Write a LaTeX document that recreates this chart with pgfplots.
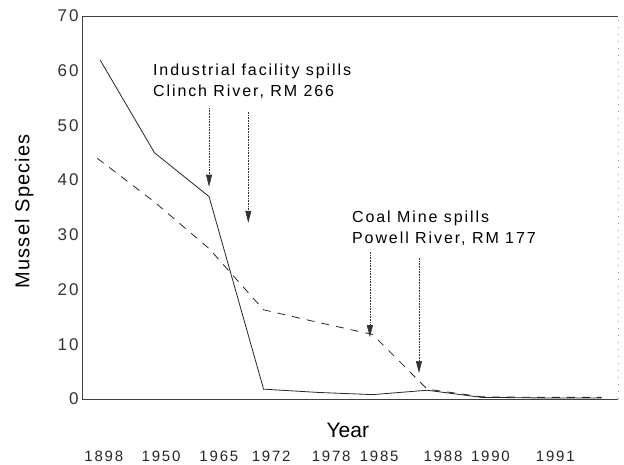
\documentclass[border=0pt]{standalone}
\usepackage{fontspec}
\setmainfont{Liberation Sans}
\newfontfamily\tickfont[LetterSpace=12]{Liberation Sans}
\newfontfamily\annfont[LetterSpace=12]{Liberation Sans}
\newfontfamily\labfont[LetterSpace=6]{Liberation Sans}
\usepackage{pgfplots}
\pgfplotsset{compat=1.18}
\usetikzlibrary{arrows.meta}
\begin{document}
\begin{tikzpicture}
\begin{axis}[
  at={(82bp,66bp)}, anchor=south west,
  width=536bp, height=383bp, scale only axis,
  xmin=-0.33, xmax=9.5, ymin=0, ymax=70,
  axis lines*=left,
  axis line style={-, black!75, line width=0.6bp},
  major tick length=0,
  ytick={0,10,20,30,40,50,60,70},
  xtick={0.07,1.12,2.18,3.14,4.24,5.12,6.29,7.16,8.35},
  xticklabels={1898,1950,1965,1972,1978,1985,1988,1990,1991},
  /pgf/number format/assume math mode=true,
  yticklabel style={font=\tickfont\fontsize{17bp}{20bp}\selectfont, text=black!80},
  xticklabel style={font=\tickfont\fontsize{15bp}{18bp}\selectfont, anchor=center, yshift=-57bp, text=black!85},
  xlabel={Year},
  ylabel={Mussel Species},
  xlabel style={font=\fontsize{21bp}{24bp}\selectfont, at={(axis description cs:0.496,-0.081)}, anchor=center},
  ylabel style={font=\labfont\fontsize{20bp}{23bp}\selectfont, at={(axis description cs:-0.108,0.49)}, anchor=center},
  clip=false,
]
% frame top and right
\draw[black!75, line width=0.6bp] (rel axis cs:0,1) -- (rel axis cs:1,1);
\draw[black!40, line width=0.5bp, dash pattern=on 1bp off 6bp] (rel axis cs:1,0) -- (rel axis cs:1,1);

% data
\addplot[black!85, line width=0.8bp] coordinates {(0,62) (1,45) (2,37) (3,1.8) (4,1.2) (5,0.8) (6,1.6) (7,0.3) (8,0.2) (9.2,0.2)};
\addplot[black!85, line width=0.8bp, dash pattern=on 8bp off 7bp] coordinates {(-0.05,44) (1,36) (2,27.5) (3,16.3) (4,14) (5,11.8) (6,1.8) (7,0.4) (8,0.3) (9.2,0.3)};

% arrows
\addplot[black!80, line width=0.6bp, densely dotted, -{Triangle[length=12bp,width=6bp]}] coordinates {(2,53.2) (2,38.8)};
\addplot[black!80, line width=0.6bp, densely dotted, -{Triangle[length=12bp,width=6bp]}] coordinates {(2.72,52.5) (2.72,32.2)};
\addplot[black!80, line width=0.6bp, densely dotted, -{Triangle[length=12bp,width=6bp]}] coordinates {(4.95,26.9) (4.95,11.3)};
\addplot[black!80, line width=0.6bp, densely dotted, -{Triangle[length=12bp,width=6bp]}] coordinates {(5.85,25.8) (5.85,4.75)};

% annotations
\node[anchor=west, align=left, inner sep=0, font=\annfont\fontsize{16bp}{21bp}\selectfont] at (axis cs:0.97,58.0) {Industrial facility spills\\Clinch River, RM 266};
\node[anchor=west, align=left, inner sep=0, font=\annfont\fontsize{16bp}{21bp}\selectfont] at (axis cs:4.62,31.3) {Coal Mine spills\\Powell River, RM 177};
\end{axis}
\pgfresetboundingbox
\useasboundingbox (0,0) rectangle (624bp,465bp);
\end{tikzpicture}
\end{document}
